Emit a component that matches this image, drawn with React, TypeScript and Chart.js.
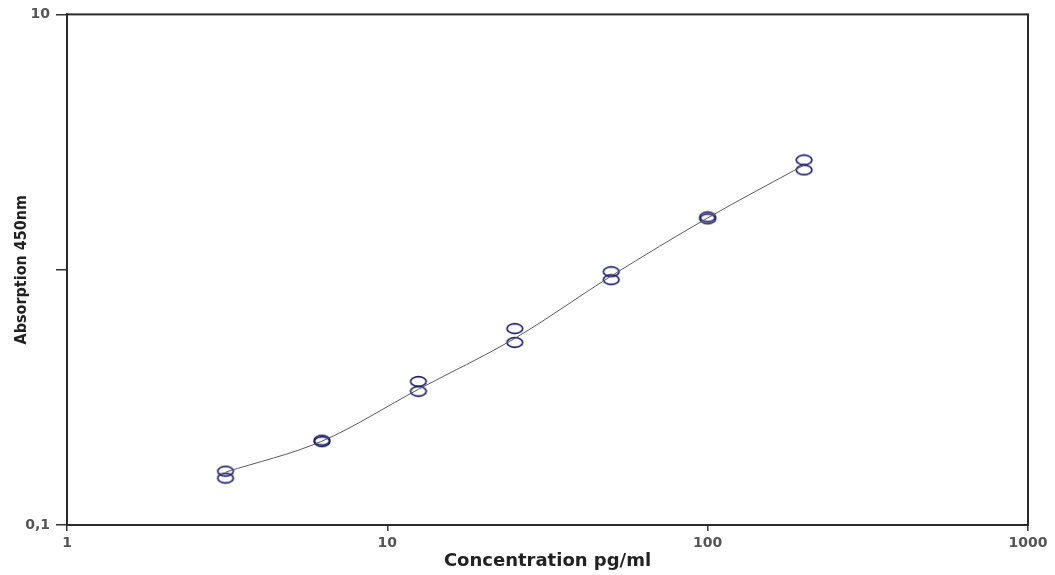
import React, { useEffect, useRef } from "react";
import { Chart, registerables } from "chart.js";

Chart.register(...registerables);

const concentrations = [3.125, 6.25, 12.5, 25, 50, 100, 200];
const replicateA = [0.1625, 0.215, 0.365, 0.588, 0.982, 1.61, 2.69];
const replicateB = [0.1527, 0.212, 0.334, 0.519, 0.914, 1.582, 2.46];
const fitCurve = [0.161, 0.213, 0.34, 0.538, 0.945, 1.595, 2.57];
const xTickValues = [1, 10, 100, 1000];
const yTickValues = [0.1, 1, 10];
const yTickLabels: Record<string, string> = { "0.1": "0,1", "1": "", "10": "10" };

function makeEllipse(): HTMLCanvasElement {
  const c = document.createElement("canvas");
  c.width = 20;
  c.height = 13;
  const ctx = c.getContext("2d")!;
  ctx.strokeStyle = "#1c1c6a";
  ctx.lineWidth = 1.7;
  ctx.beginPath();
  ctx.ellipse(10, 6.5, 7.8, 4.8, 0, 0, Math.PI * 2);
  ctx.stroke();
  return c;
}

const framePlugin = {
  id: "frame",
  afterDatasetsDraw(chart: any) {
    const { ctx, chartArea } = chart;
    ctx.save();
    ctx.strokeStyle = "#2a2a2a";
    ctx.lineWidth = 2;
    ctx.strokeRect(chartArea.left, chartArea.top, chartArea.right - chartArea.left, chartArea.bottom - chartArea.top);
    ctx.restore();
  },
};

export default function App() {
  const ref = useRef<HTMLCanvasElement>(null);
  useEffect(() => {
    const marker = makeEllipse();
    const chart = new Chart(ref.current!, {
      type: "scatter",
      data: {
        datasets: [
          {
            label: "fit",
            data: concentrations.map((x, i) => ({ x, y: fitCurve[i] })),
            showLine: true,
            borderColor: "#5a5a5a",
            borderWidth: 1,
            pointRadius: 0,
            cubicInterpolationMode: "monotone",
          },
          {
            label: "A",
            data: concentrations.map((x, i) => ({ x, y: replicateA[i] })),
            pointStyle: marker as any,
            pointRadius: 7,
          },
          {
            label: "B",
            data: concentrations.map((x, i) => ({ x, y: replicateB[i] })),
            pointStyle: marker as any,
            pointRadius: 7,
          },
        ],
      },
      options: {
        animation: false,
        responsive: false,
        maintainAspectRatio: false,
        layout: { padding: { top: 13, right: 27, left: 0, bottom: 0 } },
        plugins: { legend: { display: false }, tooltip: { enabled: false } },
        scales: {
          x: {
            type: "logarithmic",
            min: 1,
            max: 1000,
            afterBuildTicks: (s: any) => {
              s.ticks = xTickValues.map((v) => ({ value: v }));
            },
            afterFit: (s: any) => {
              s.height = 50;
            },
            ticks: {
              autoSkip: false,
              maxRotation: 0,
              color: "#555",
              padding: 4,
              font: { family: "DejaVu Sans", size: 14, weight: "bold" },
              callback: (v: any) => String(v),
            },
            grid: { drawOnChartArea: false, drawTicks: true, tickLength: 6, color: "#333", lineWidth: 1.5 },
            border: { display: true, color: "#2a2a2a", width: 2 },
            title: {
              display: true,
              text: "Concentration pg/ml",
              color: "#222",
              font: { family: "DejaVu Sans", size: 18, weight: "bold" },
              padding: { top: 0, bottom: 3 },
            },
          },
          y: {
            type: "logarithmic",
            min: 0.1,
            max: 10,
            afterBuildTicks: (s: any) => {
              s.ticks = yTickValues.map((v) => ({ value: v }));
            },
            afterFit: (s: any) => {
              s.width = 67;
            },
            ticks: {
              autoSkip: false,
              color: "#555",
              padding: 6,
              font: { family: "DejaVu Sans", size: 14, weight: "bold" },
              callback: (v: any) => yTickLabels[String(v)] ?? "",
            },
            grid: { drawOnChartArea: false, drawTicks: true, tickLength: 11, color: "#333", lineWidth: 1.5 },
            border: { display: true, color: "#2a2a2a", width: 2 },
            title: {
              display: true,
              text: "Absorption 450nm",
              color: "#222",
              font: { family: "'DejaVu Sans Condensed', 'Liberation Sans Narrow', 'DejaVu Sans'", size: 16, weight: "bold" },
              padding: { top: 12, bottom: 0 },
            },
          },
        },
      },
      plugins: [framePlugin],
    });
    return () => chart.destroy();
  }, []);
  return (
    <div style={{ position: "fixed", left: 0, top: 0, width: 1055, height: 575, background: "#fff" }}>
      <canvas ref={ref} width={1055} height={575} style={{ width: 1055, height: 575, display: "block" }} />
    </div>
  );
}
